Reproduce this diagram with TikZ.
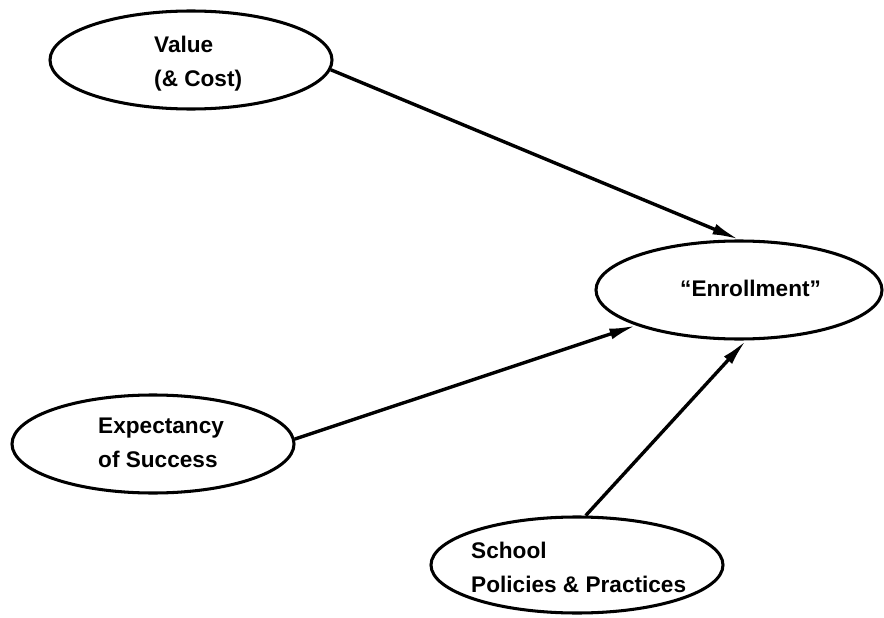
\documentclass[tikz,border=0pt]{standalone}
\usepackage{fontspec}
\setmainfont{Liberation Sans}
\usetikzlibrary{arrows.meta, shapes.geometric}

\begin{document}
\begin{tikzpicture}[x=0.03cm, y=-0.03cm,
	oval/.style={draw, ellipse, line width=2.6pt, inner sep=0pt},
	lbl/.style={anchor=west, align=left, inner sep=0pt, font=\fontsize{19.3pt}{29pt}\selectfont\bfseries},
	link/.style={line width=2.9pt, -{Latex[length=8mm, width=3.3mm]}}]

	\useasboundingbox (0,0) rectangle (884,618);

	% the four ovals
	\node[oval, minimum width=8.46cm, minimum height=2.94cm] (value) at (191,60) {};
	\node[oval, minimum width=8.58cm, minimum height=2.94cm] (enroll) at (739,290) {};
	\node[oval, minimum width=8.46cm, minimum height=2.94cm] (expect) at (153,444) {};
	\node[oval, minimum width=8.76cm, minimum height=2.88cm] (school) at (577,565) {};

	\node[lbl] (value-t) at (154,63.5) {Value\\(\& Cost)};
	\node[lbl] (enroll-t) at (680,288) {“Enrollment”};
	\node[lbl] (expect-t) at (98,443) {Expectancy\\of Success};
	\node[lbl] (school-t) at (471,567) {School\\Policies \& Practices};

	% arrows
	\draw[link] (value.-4) -- (enroll.north);
	\draw[link] (expect.2) -- (enroll.199);
	\draw[link] (school.80) -- (enroll.-82);

\end{tikzpicture}
\end{document}
